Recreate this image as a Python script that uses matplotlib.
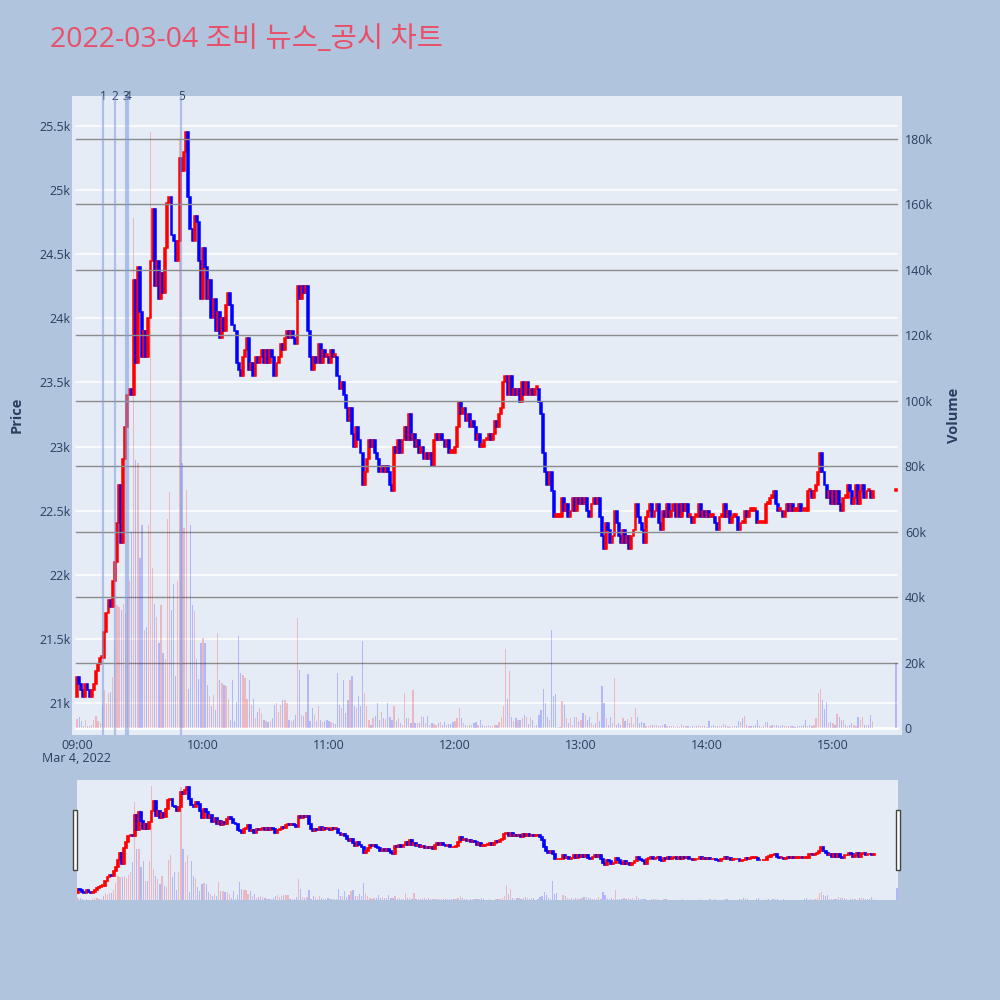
import matplotlib
matplotlib.use("Agg")
import matplotlib.pyplot as plt
import matplotlib.transforms as mtransforms
from matplotlib.patches import Rectangle

plt.rcParams['font.family'] = ['Open Sans', 'Noto Sans CJK KR', 'DejaVu Sans']

TITLE = "2022-03-04 조비 뉴스_공시 차트"
DATE_LABEL = "Mar 4, 2022"

# minute offsets from 09:00 (regular session to 15:19, then the 15:30 close)
MINUTES = list(range(380)) + [390]
FIRST_OPEN = 21050

# 1-minute closes
CLOSE = [
    21200, 21150, 21100, 21050, 21150, 21100, 21050, 21100, 21150, 21250,
    21300, 21350, 21350, 21550, 21700, 21800, 21750, 21950, 22100, 22400,
    22700, 22250, 22900, 23150, 23400, 23450, 23400, 24300, 23650, 24400,
    24050, 23700, 23900, 23700, 24000, 24450, 24850, 24250, 24450, 24150,
    24350, 24200, 24550, 24900, 24950, 24650, 24600, 24450, 24600, 25250,
    25150, 25300, 25450, 24950, 24700, 24600, 24800, 24750, 24450, 24150,
    24550, 24400, 24150, 24300, 24000, 24150, 23900, 24050, 23850, 24000,
    23900, 24100, 24200, 24100, 23950, 23900, 23650, 23600, 23550, 23700,
    23750, 23850, 23600, 23650, 23550, 23700, 23650, 23700, 23750, 23650,
    23750, 23650, 23750, 23700, 23550, 23650, 23700, 23800, 23750, 23850,
    23900, 23850, 23900, 23850, 23800, 24250, 24150, 24250, 24200, 24250,
    23900, 23700, 23600, 23700, 23650, 23800, 23650, 23750, 23700, 23700,
    23650, 23750, 23700, 23700, 23550, 23450, 23500, 23400, 23300, 23200,
    23300, 23100, 23000, 23150, 23050, 22950, 22700, 22800, 22900, 23050,
    23000, 23050, 22950, 22900, 22800, 22850, 22800, 22850, 22800, 22700,
    22650, 23000, 22950, 23050, 22950, 23050, 23150, 23050, 23250, 23050,
    23100, 23000, 23050, 22950, 23000, 22900, 22950, 22900, 22950, 22850,
    23050, 23100, 23050, 23100, 23050, 23000, 23050, 22950, 22950, 22950,
    23000, 23150, 23350, 23250, 23300, 23200, 23250, 23150, 23200, 23150,
    23050, 23100, 23000, 23000, 23050, 23050, 23100, 23050, 23100, 23200,
    23150, 23250, 23300, 23500, 23550, 23400, 23550, 23400, 23450, 23400,
    23450, 23350, 23500, 23400, 23500, 23400, 23450, 23400, 23450, 23450,
    23350, 23250, 22950, 22800, 22700, 22800, 22650, 22450, 22450, 22450,
    22450, 22600, 22500, 22550, 22450, 22500, 22600, 22500, 22600, 22550,
    22600, 22550, 22600, 22500, 22450, 22550, 22600, 22550, 22600, 22450,
    22300, 22200, 22400, 22350, 22250, 22300, 22500, 22400, 22300, 22250,
    22350, 22250, 22300, 22200, 22300, 22350, 22550, 22450, 22400, 22350,
    22250, 22450, 22500, 22550, 22450, 22500, 22550, 22400, 22350, 22500,
    22450, 22550, 22450, 22500, 22550, 22450, 22550, 22450, 22550, 22500,
    22550, 22450, 22450, 22400, 22450, 22450, 22550, 22450, 22500, 22450,
    22500, 22450, 22450, 22450, 22400, 22350, 22450, 22450, 22550, 22450,
    22500, 22400, 22450, 22450, 22450, 22350, 22400, 22400, 22500, 22450,
    22500, 22500, 22500, 22500, 22400, 22400, 22400, 22400, 22550, 22550,
    22600, 22600, 22650, 22550, 22500, 22500, 22450, 22500, 22550, 22500,
    22550, 22500, 22500, 22500, 22550, 22500, 22500, 22500, 22650, 22650,
    22600, 22650, 22700, 22800, 22950, 22800, 22700, 22600, 22650, 22550,
    22650, 22550, 22650, 22550, 22500, 22600, 22600, 22700, 22650, 22550,
    22600, 22700, 22550, 22650, 22700, 22600, 22650, 22650, 22600, 22650,
    22650,
]

VOLUME = [
    2800, 3300, 2000, 700, 2300, 500, 700, 1000, 2500, 3600,
    2000, 1500, 7000, 11700, 7600, 10700, 11000, 15600, 26500, 37700,
    37000, 36000, 38000, 35000, 40000, 45000, 60000, 156000, 82000, 81000,
    52000, 62000, 30000, 31000, 62000, 182000, 49000, 38000, 34000, 26000,
    37600, 23000, 21000, 64000, 72000, 36000, 44000, 16000, 45000, 180000,
    81000, 61000, 72600, 12000, 62000, 37600, 35800, 21000, 15000, 26000,
    27500, 26000, 13000, 9700, 6600, 10000, 5600, 29000, 14800, 13800,
    13000, 12700, 9000, 2500, 14800, 2000, 8000, 28000, 16800, 16300,
    15300, 9000, 14800, 7000, 9000, 3000, 5000, 6000, 4600, 2500,
    2000, 1700, 2000, 3000, 7000, 7600, 4800, 7000, 8700, 8700,
    7600, 2300, 2000, 2300, 4000, 33600, 17800, 4000, 3700, 4800,
    16600, 2000, 6000, 4000, 2000, 6600, 2500, 1700, 2000, 2500,
    2000, 1700, 1500, 1300, 16800, 7000, 6000, 14800, 4600, 8700,
    14800, 15800, 6600, 6000, 9700, 6600, 26500, 10700, 6600, 2500,
    1000, 3000, 3700, 7600, 2500, 5000, 3000, 2800, 7600, 3500,
    2500, 6600, 2000, 3000, 1500, 1000, 10700, 3000, 3000, 1500,
    11500, 1500, 1500, 1500, 3700, 3500, 1500, 3700, 1000, 1500,
    1200, 1000, 1500, 1700, 1000, 1700, 1000, 1100, 1100, 1700,
    2000, 3000, 6000, 3000, 1500, 1000, 500, 1000, 1000, 1500,
    1700, 1000, 2500, 1000, 500, 500, 1000, 500, 700, 800,
    1000, 1700, 3500, 6600, 24000, 9000, 17500, 3500, 2000, 3000,
    2500, 2300, 3000, 4000, 3500, 1300, 3500, 2500, 700, 1000,
    4000, 5600, 12000, 7600, 3500, 2300, 30000, 9700, 10500, 300,
    300, 8200, 7100, 3000, 1500, 3000, 1000, 3400, 3500, 2000,
    2500, 4600, 4000, 2500, 3500, 1500, 1000, 1500, 5000, 2000,
    12700, 7600, 3000, 1000, 3500, 1500, 15300, 1000, 1500, 1000,
    3000, 2000, 2800, 1500, 3500, 1300, 6000, 3400, 1500, 1700,
    1500, 500, 500, 1000, 1000, 1000, 1000, 500, 500, 1000,
    1100, 500, 700, 700, 500, 300, 500, 300, 1300, 700,
    500, 500, 300, 500, 500, 500, 1000, 700, 500, 500,
    300, 2000, 500, 1000, 500, 700, 500, 500, 1300, 1000,
    500, 300, 500, 500, 700, 2000, 1700, 3000, 3700, 1000,
    500, 700, 500, 1000, 2500, 500, 300, 500, 1700, 1700,
    700, 1000, 1000, 1000, 500, 500, 1000, 500, 700, 500,
    500, 500, 300, 700, 500, 700, 1000, 2500, 500, 1000,
    700, 1000, 3000, 10700, 12000, 8700, 5900, 8000, 1500, 1800,
    1500, 1000, 4400, 3500, 2500, 2500, 1000, 700, 1000, 1500,
    1000, 700, 3500, 2500, 3400, 1000, 1000, 1000, 4000, 2000,
    19900,
]

# news / disclosure markers (minutes after 09:00)
NEWS_TIMES = [12.4, 18.1, 23.3, 24.3, 49.6]
NEWS_LABELS = ['1', '2', '3', '4', '5']

PRICE_TICKS = [21000, 21500, 22000, 22500, 23000, 23500, 24000, 24500, 25000, 25500]
VOL_TICKS = [0, 20000, 40000, 60000, 80000, 100000, 120000, 140000, 160000, 180000]
TIME_TICKS = [0, 60, 120, 180, 240, 300, 360]
TIME_LABELS = ['09:00', '10:00', '11:00', '12:00', '13:00', '14:00', '15:00']

BG = '#B0C4DE'
PLOT_BG = '#E5ECF6'
TXT = '#2a3f5f'
UP, DOWN = '#FF0000', '#0000FF'
PRICE_LIM = (20750, 25734)
VOL_LIM = (-2140, 193150)


def k_fmt(v):
    if v == 0:
        return '0'
    s = f'{v / 1000:.1f}'.rstrip('0').rstrip('.')
    return s + 'k'


opens = [FIRST_OPEN] + CLOSE[:-1]
up = [c >= o for o, c in zip(opens, CLOSE)]
body_lo = [min(o, c) for o, c in zip(opens, CLOSE)]
body_h = [max(abs(c - o), 20) for o, c in zip(opens, CLOSE)]
candle_col = [UP if u else DOWN for u in up]
vol_col = [UP if c > o else DOWN for o, c in zip(opens, CLOSE)]


def draw_candles(ax, axv, width=0.9, lw=1.1):
    ax.bar(MINUTES, body_h, bottom=body_lo, width=width, color=candle_col,
           edgecolor=candle_col, linewidth=lw, zorder=3)
    axv.bar(MINUTES, VOLUME, width=0.6, color=vol_col, alpha=0.22,
            linewidth=0, zorder=2)


fig = plt.figure(figsize=(10, 10), dpi=100)
fig.patch.set_facecolor(BG)

# ---- main panel -------------------------------------------------------
ax = fig.add_axes([0.072, 0.265, 0.830, 0.639])
ax.set_facecolor(PLOT_BG)
axv = ax.twinx()
axv.patch.set_visible(False)

for p in PRICE_TICKS:
    ax.axhline(p, xmin=0.005, xmax=0.994, color='white', lw=1.1, zorder=1)
for v in VOL_TICKS[1:]:
    axv.axhline(v, xmin=0.005, xmax=0.994, color='#8c8c8c', lw=1.0, zorder=1)
axv.axhline(0, xmin=0.005, xmax=0.994, color='white', lw=2, zorder=1)

draw_candles(ax, axv)

ax.set_xlim(-2.4, 392.9)
ax.set_ylim(*PRICE_LIM)
axv.set_ylim(*VOL_LIM)

ax.set_yticks(PRICE_TICKS)
ax.set_yticklabels([k_fmt(p) for p in PRICE_TICKS])
axv.set_yticks(VOL_TICKS)
axv.set_yticklabels([k_fmt(v) for v in VOL_TICKS])
ax.set_xticks(TIME_TICKS)
ax.set_xticklabels(TIME_LABELS)
for a in (ax, axv):
    a.tick_params(length=0, labelsize=9, labelcolor=TXT)
    for s in a.spines.values():
        s.set_visible(False)
ax.tick_params(axis='y', pad=1)
axv.tick_params(axis='y', pad=2)
ax.tick_params(axis='x', pad=3)

# news markers
trans = mtransforms.blended_transform_factory(axv.transData, axv.transAxes)
for t, lab in zip(NEWS_TIMES, NEWS_LABELS):
    axv.axvline(t, color='#7f9be0', lw=1.6, alpha=0.55, zorder=5)
    axv.text(t, 1.0, lab, transform=trans, ha='center', va='center',
             fontsize=8.5, color=TXT, clip_on=False)

fig.text(0.077, 1 - 758 / 1000, DATE_LABEL, ha='center', va='center',
         fontsize=9, color=TXT)
fig.text(0.010, 0.585, 'Price', rotation=90, ha='left', va='center',
         fontsize=10.5, fontweight='bold', color=TXT)
fig.text(0.947, 0.585, 'Volume', rotation=90, ha='left', va='center',
         fontsize=10.5, fontweight='bold', color=TXT)
fig.text(0.050, 0.960, TITLE, ha='left', va='center', fontsize=20.5,
         color='#E8506A')

# ---- range slider -----------------------------------------------------
axs = fig.add_axes([0.077, 0.100, 0.821, 0.120])
axs.set_facecolor(PLOT_BG)
axsv = axs.twinx()
axsv.patch.set_visible(False)
draw_candles(axs, axsv, width=0.9, lw=1.2)
axs.set_xlim(-0.5, 390.5)
axs.set_ylim(*PRICE_LIM)
axsv.set_ylim(0, 191600)
for a in (axs, axsv):
    a.set_xticks([])
    a.set_yticks([])
    for s in a.spines.values():
        s.set_visible(False)

for x0, w in [(0.073, 0.004), (0.896, 0.004)]:
    fig.patches.append(Rectangle((x0, 0.130), w, 0.060, transform=fig.transFigure,
                                 facecolor='white', edgecolor='#444444', lw=1.0))

fig.savefig('out.png', dpi=100, facecolor=fig.get_facecolor())
